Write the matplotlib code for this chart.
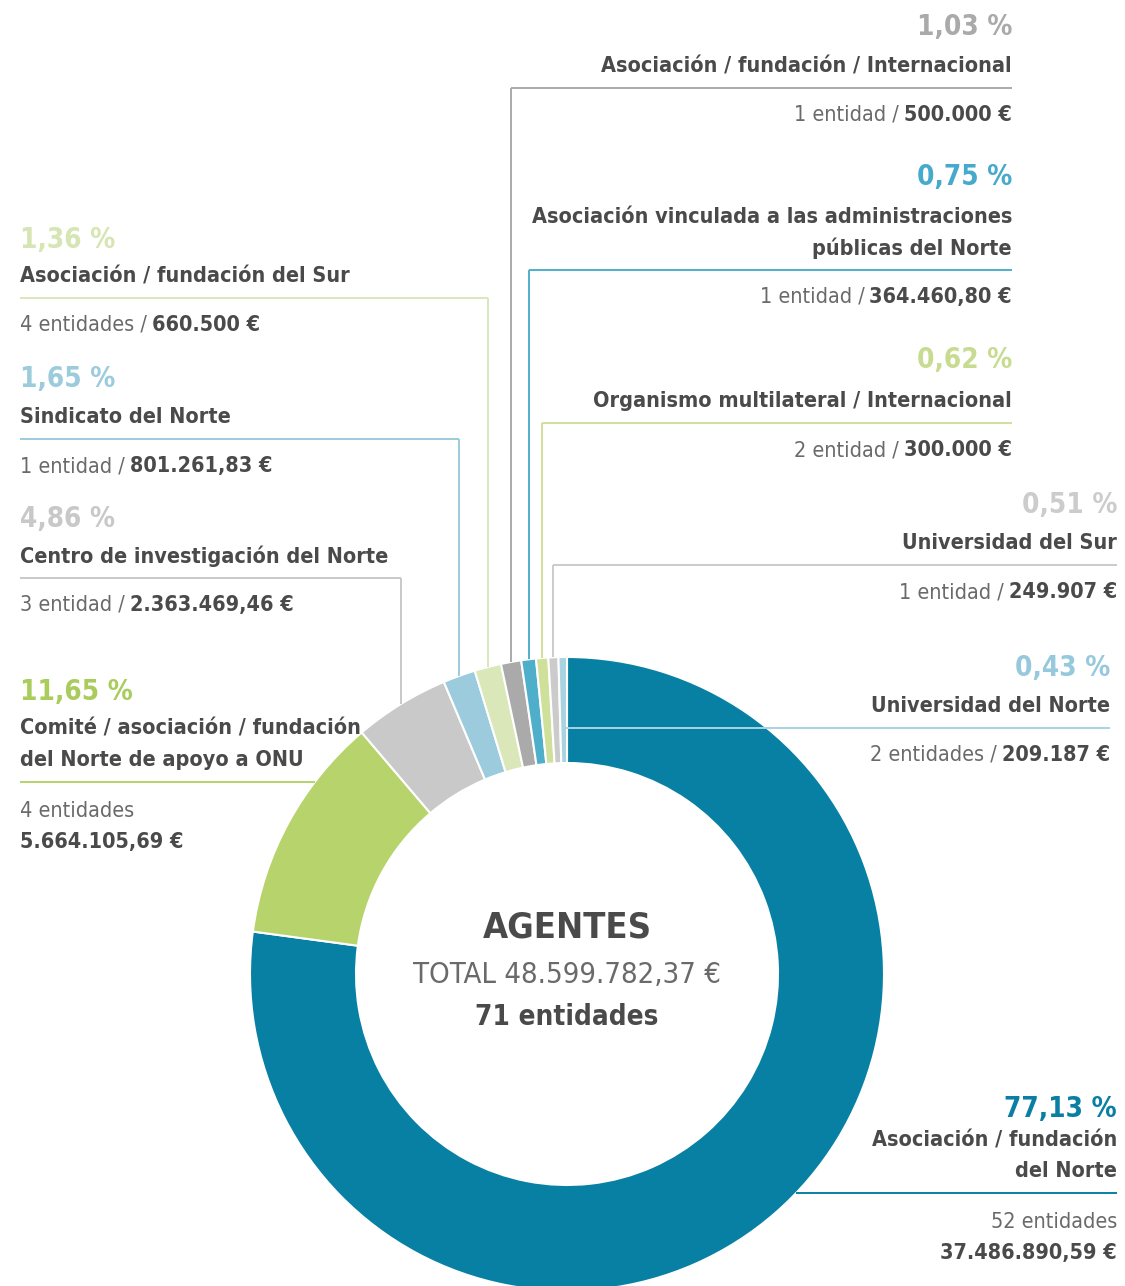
import numpy as np
import matplotlib
matplotlib.use("Agg")
import matplotlib.pyplot as plt

W, H = 1125, 1286

# datos del gráfico (orden horario desde arriba)
porcentajes = [77.13, 11.65, 4.86, 1.65, 1.36, 1.03, 0.75, 0.62, 0.51, 0.43]
etiquetas_pct = ["77,13 %", "11,65 %", "4,86 %", "1,65 %", "1,36 %",
                 "1,03 %", "0,75 %", "0,62 %", "0,51 %", "0,43 %"]
nombres = [
    ["Asociación / fundación", "del Norte"],
    ["Comité / asociación / fundación", "del Norte de apoyo a ONU"],
    ["Centro de investigación del Norte"],
    ["Sindicato del Norte"],
    ["Asociación / fundación del Sur"],
    ["Asociación / fundación / Internacional"],
    ["Asociación vinculada a las administraciones", "públicas del Norte"],
    ["Organismo multilateral / Internacional"],
    ["Universidad del Sur"],
    ["Universidad del Norte"],
]
entidades = ["52 entidades", "4 entidades", "3 entidad", "1 entidad", "4 entidades",
             "1 entidad", "1 entidad", "2 entidad", "1 entidad", "2 entidades"]
importes = ["37.486.890,59 €", "5.664.105,69 €", "2.363.469,46 €", "801.261,83 €",
            "660.500 €", "500.000 €", "364.460,80 €", "300.000 €", "249.907 €",
            "209.187 €"]
titulo = "AGENTES"
total = "TOTAL 48.599.782,37 €"
total_entidades = "71 entidades"

colores = ["#0880a4", "#b7d36b", "#c9c9c9", "#9bcbdc", "#d9e7b9",
           "#aaaaaa", "#4fafcb", "#cfe09b", "#cbcbcb", "#a9d3e1"]
colores_pct = ["#0a7fa3", "#a9cc5c", "#c8c8c8", "#9ccbdc", "#d5e5b3",
               "#aaaaaa", "#45aacb", "#c7dc91", "#cccccc", "#97c9dc"]

OSCURO = "#4a4a4a"
GRIS = "#6a6a6a"
FUENTE = dict(family="DejaVu Sans", fontstretch="condensed")

# posicion de cada bloque de texto: lado, x, y del %, y de la linea horizontal
layout = [
    ("R", 1117, 1109, 1193),
    ("L", 20, 692, 782),
    ("L", 20, 519, 578),
    ("L", 20, 379, 439),
    ("L", 20, 240, 298),
    ("R", 1012, 27, 88),
    ("R", 1012, 177, 270),
    ("R", 1012, 360, 423),
    ("R", 1117, 505, 565),
    ("R", 1110, 668, 728),
]

cx, cy, R, ancho = 567, 974, 317, 106

fig = plt.figure(figsize=(W / 100, H / 100), dpi=100)
ax = fig.add_axes([0, 0, 1, 1])
# eje en pixeles de imagen (y hacia abajo)
wedges, _ = ax.pie(porcentajes, colors=colores, startangle=-90, counterclock=True,
                   radius=R, center=(cx, cy),
                   wedgeprops=dict(width=ancho, edgecolor="white", linewidth=1.5))
ax.set_xlim(0, W)
ax.set_ylim(H, 0)
ax.set_aspect("equal")
ax.axis("off")

renderer = fig.canvas.get_renderer()
inv = ax.transData.inverted()


def texto(x, y, s, ha, **kw):
    return ax.text(x, y, s, ha=ha, va="center", **FUENTE, **kw)


def linea_mixta(x, y, normal, negrita, ha, size=15.5):
    gap = 5
    if ha == "right":
        t = texto(x, y, negrita, "right", fontsize=size, fontweight="bold", color=OSCURO)
        x0 = inv.transform((t.get_window_extent(renderer).x0, 0))[0]
        texto(x0 - gap, y, normal + " /", "right", fontsize=size, color=GRIS)
    else:
        t = texto(x, y, normal + " /", "left", fontsize=size, color=GRIS)
        x1 = inv.transform((t.get_window_extent(renderer).x1, 0))[0]
        texto(x1 + gap, y, negrita, "left", fontsize=size, fontweight="bold", color=OSCURO)


for i, w in enumerate(wedges):
    lado, xa, ypct, yl = layout[i]
    ha = "right" if lado == "R" else "left"
    texto(xa, ypct, etiquetas_pct[i], ha, fontsize=20, fontweight="bold", color=colores_pct[i])
    n = len(nombres[i])
    for k, s in enumerate(nombres[i]):
        yy = yl - 22 - (n - 1 - k) * 31
        texto(xa, yy, s, ha, fontsize=15.5, fontweight="bold", color=OSCURO)

    # linea guia
    mid = np.radians((w.theta1 + w.theta2) / 2)
    xm = cx + R * np.cos(mid)
    ym = cy + R * np.sin(mid)
    lc = colores[i]
    lw = 1.4
    if i in (0, 1):
        dx = np.sqrt(R ** 2 - (yl - cy) ** 2)
        xs = cx + dx if i == 0 else cx - dx
        ax.plot([xs, xa], [yl, yl], color=lc, lw=lw, solid_capstyle="butt")
    elif i == 9:
        ax.plot([xm, xa], [yl, yl], color=lc, lw=lw, solid_capstyle="butt")
    else:
        ax.plot([xm, xm], [ym, yl], color=lc, lw=lw, solid_capstyle="butt")
        ax.plot([xm, xa], [yl, yl], color=lc, lw=lw, solid_capstyle="butt")

    # entidades / importe
    if i in (0, 1):
        texto(xa, yl + 29, entidades[i], ha, fontsize=15.5, color=GRIS)
        texto(xa, yl + 60, importes[i], ha, fontsize=15.5, fontweight="bold", color=OSCURO)
    else:
        linea_mixta(xa, yl + 27, entidades[i], importes[i], ha)

# centro
texto(cx, 928, titulo, "center", fontsize=26, fontweight="bold", color=OSCURO)
texto(cx, 975, total, "center", fontsize=21, color=GRIS)
texto(cx, 1017, total_entidades, "center", fontsize=20, fontweight="bold", color=OSCURO)

fig.savefig("out.png", dpi=100, facecolor="white")
